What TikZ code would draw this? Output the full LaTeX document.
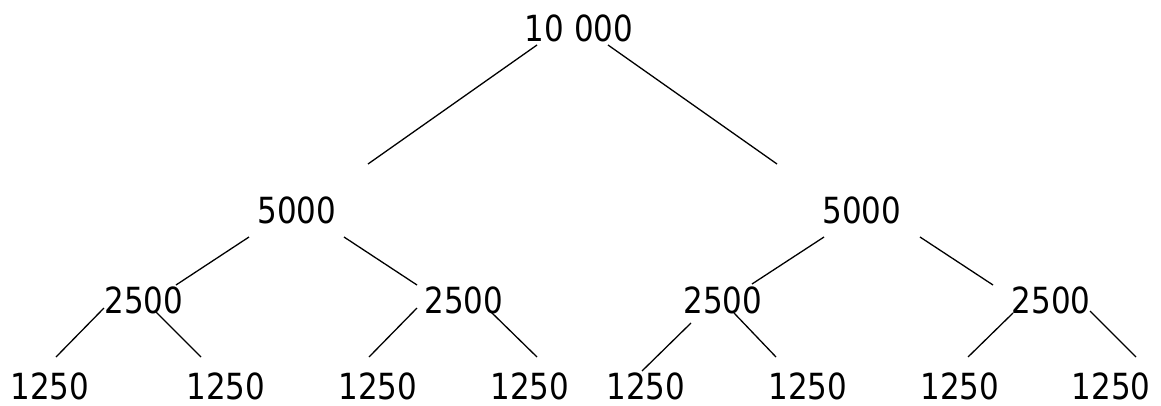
\documentclass[tikz,border=0pt]{standalone}
\usepackage{fontspec}
\setmainfont{DejaVu Sans}[FakeStretch=0.86]
\begin{document}
\begin{tikzpicture}[x=1pt,y=-1pt,
  lbl/.style={anchor=base,inner sep=0pt,font=\fontsize{36}{40}\selectfont},
  edge/.style={line width=1.3pt,black}]
\useasboundingbox (0,0) rectangle (1161,405);
% labels
\node[lbl] (root) at (579,41) {10 000};
\node[lbl] (L) at (297,223) {5000};
\node[lbl] (R) at (862,223) {5000};
\node[lbl] (LL) at (144,313) {2500};
\node[lbl] (LR) at (464,313) {2500};
\node[lbl] (RL) at (723,313) {2500};
\node[lbl] (RR) at (1051,313) {2500};
\node[lbl] (a1) at (50,399) {1250};
\node[lbl] (a2) at (226,399) {1250};
\node[lbl] (a3) at (378,399) {1250};
\node[lbl] (a4) at (530,399) {1250};
\node[lbl] (a5) at (646,399) {1250};
\node[lbl] (a6) at (808,399) {1250};
\node[lbl] (a7) at (960,399) {1250};
\node[lbl] (a8) at (1111,399) {1250};
% connector end points
\coordinate (rootL) at (537,45);  \coordinate (Ltop) at (368,164);
\coordinate (rootR) at (608,45);  \coordinate (Rtop) at (777,164);
\coordinate (LbL) at (249,237);   \coordinate (LLtop) at (176,285);
\coordinate (LbR) at (344,237);   \coordinate (LRtop) at (417,285);
\coordinate (RbL) at (824,237);   \coordinate (RLtop) at (752,284);
\coordinate (RbR) at (920,237);   \coordinate (RRtop) at (993,285);
\coordinate (LLbL) at (104,308);  \coordinate (a1top) at (56,357);
\coordinate (LLbR) at (156,312);  \coordinate (a2top) at (201,357);
\coordinate (LRbL) at (417,308);  \coordinate (a3top) at (369,357);
\coordinate (LRbR) at (491,312);  \coordinate (a4top) at (537,357);
\coordinate (RLbL) at (691,323);  \coordinate (a5top) at (642,371);
\coordinate (RLbR) at (734,313);  \coordinate (a6top) at (776,357);
\coordinate (RRbL) at (1013,313); \coordinate (a7top) at (968,357);
\coordinate (RRbR) at (1090,311); \coordinate (a8top) at (1136,357);
% connectors
\draw[edge] (rootL) -- (Ltop);
\draw[edge] (rootR) -- (Rtop);
\draw[edge] (LbL) -- (LLtop);
\draw[edge] (LbR) -- (LRtop);
\draw[edge] (RbL) -- (RLtop);
\draw[edge] (RbR) -- (RRtop);
\draw[edge] (LLbL) -- (a1top);
\draw[edge] (LLbR) -- (a2top);
\draw[edge] (LRbL) -- (a3top);
\draw[edge] (LRbR) -- (a4top);
\draw[edge] (RLbL) -- (a5top);
\draw[edge] (RLbR) -- (a6top);
\draw[edge] (RRbL) -- (a7top);
\draw[edge] (RRbR) -- (a8top);
\end{tikzpicture}
\end{document}
